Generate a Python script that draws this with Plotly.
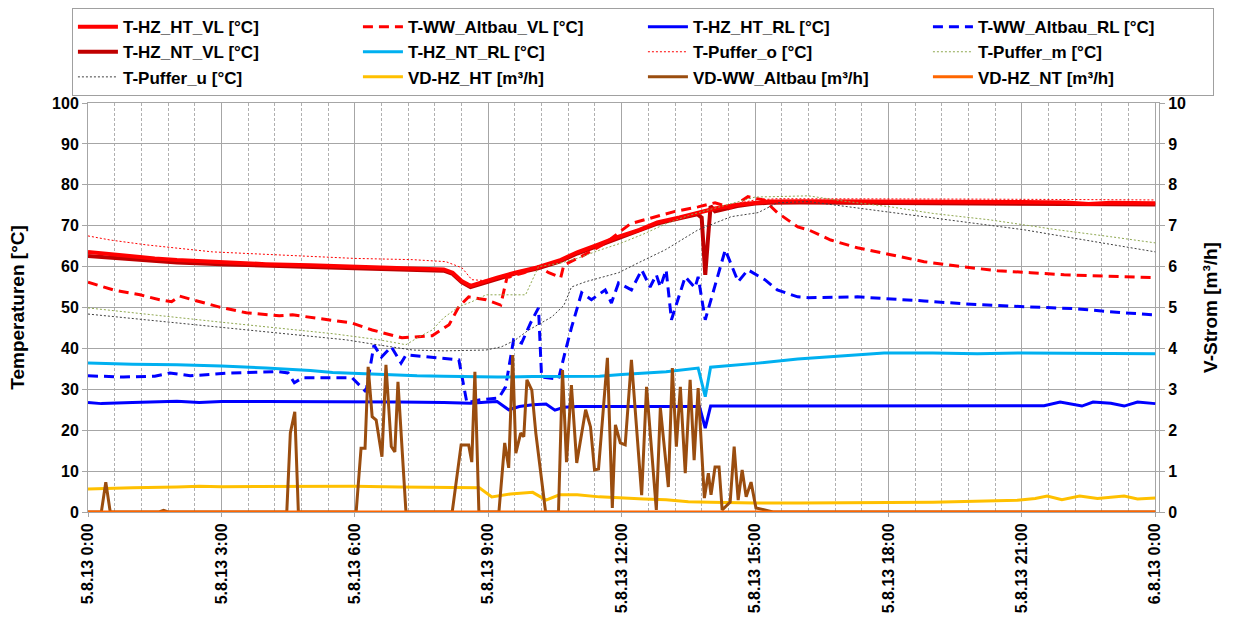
import pandas as pd
import plotly.graph_objects as go

BASE = pd.Timestamp("2013-08-05 00:00")

# ---- data (hours since 5.8.13 0:00, values) ----
t_ht_vl = [0, 0.5, 1, 1.5, 2, 3, 4, 5, 6, 7, 7.5, 8, 8.2, 8.4, 8.6, 8.8, 9.2, 9.6, 10.1, 10.6, 11.0, 11.5, 11.9, 12.4, 12.8, 13.3, 13.7, 14.1, 14.6, 15.0, 15.3, 16, 17, 18, 19, 20, 21, 22, 22.5, 23, 24]
v_ht_vl = [63.6, 63.0, 62.4, 62.0, 61.6, 61.0, 60.6, 60.3, 60.0, 59.8, 59.6, 59.3, 58.5, 56.5, 55.3, 56.0, 57.3, 58.5, 59.8, 61.5, 63.5, 65.5, 67.2, 69.0, 70.8, 72.0, 73.2, 74.2, 75.1, 75.6, 75.9, 76.0, 76.0, 75.9, 75.9, 75.8, 75.8, 75.7, 75.3, 75.6, 75.5]

t_ww_vl = [0, 0.57, 1.17, 1.61, 1.88, 2.06, 2.35, 2.96, 3.56, 4.3, 4.6, 5.04, 5.94, 6.39, 7.06, 7.74, 8.12, 8.34, 8.56, 8.95, 9.28, 9.42, 9.8, 10.13, 10.36, 10.63, 10.7, 11.1, 11.6, 12.2, 12.7, 13.2, 13.72, 14.1, 14.46, 14.84, 15.2, 15.5, 15.96, 16.2, 16.7, 17.3, 18.05, 18.8, 19.7, 20.45, 21.2, 21.95, 22.85, 24.0]
v_ww_vl = [56.2, 54.3, 53.1, 51.9, 51.4, 52.8, 51.9, 50.1, 48.7, 48.0, 48.2, 47.5, 46.2, 44.5, 42.6, 43.1, 45.8, 50.2, 52.6, 51.9, 50.6, 57.3, 58.5, 60.0, 58.5, 57.3, 60.4, 62.5, 65.5, 70.5, 72.0, 73.5, 74.6, 75.6, 74.4, 77.1, 76.3, 73.2, 69.7, 69.0, 66.5, 64.6, 62.9, 61.2, 59.9, 59.0, 58.5, 58.0, 57.7, 57.3]

t_ht_rl = [0, 0.3, 1, 2, 2.5, 3, 4, 5, 6, 7, 8, 8.6, 9.0, 9.2, 9.46, 9.7, 10.0, 10.3, 10.5, 10.7, 11, 12, 13, 13.75, 13.88, 14.0, 15, 16, 17, 18, 19, 20, 21, 21.5, 21.86, 22.35, 22.6, 23.0, 23.3, 23.6, 24]
v_ht_rl = [26.8, 26.5, 26.8, 27.1, 26.8, 27.0, 27.0, 27.0, 27.0, 26.9, 26.8, 26.6, 26.9, 27.0, 25.0, 25.8, 26.2, 26.4, 24.9, 25.6, 25.8, 25.8, 25.8, 25.8, 20.5, 25.9, 25.9, 25.9, 25.9, 25.9, 25.9, 25.9, 25.9, 26.0, 26.9, 25.9, 26.9, 26.6, 25.9, 26.9, 26.5]

t_ww_rl = [0, 0.8, 1.5, 1.84, 2.3, 3.2, 4.3, 4.5, 4.64, 4.82, 5.94, 6.25, 6.43, 6.6, 6.82, 7.04, 7.15, 8.34, 8.52, 8.79, 9.24, 9.39, 9.57, 9.75, 9.95, 10.13, 10.2, 10.58, 10.74, 10.87, 11.1, 11.32, 11.63, 11.77, 11.93, 12.22, 12.45, 12.64, 12.78, 12.87, 13.0, 13.12, 13.43, 13.65, 13.72, 13.88, 14.33, 14.62, 14.84, 15.22, 15.5, 15.96, 16.2, 17.3, 18.8, 19.7, 21.05, 22.2, 23.3, 24.0]
v_ww_rl = [33.3, 33.0, 33.2, 34.0, 33.3, 34.0, 34.3, 34.0, 31.6, 32.8, 32.8, 29.4, 40.8, 37.9, 40.4, 36.4, 38.4, 37.2, 26.7, 27.4, 27.9, 30.6, 42.1, 41.3, 46.2, 49.9, 33.0, 32.5, 39.6, 45.0, 53.6, 51.9, 54.3, 51.1, 56.0, 54.3, 59.2, 55.0, 58.0, 55.0, 59.2, 47.0, 57.5, 54.8, 57.5, 47.0, 64.1, 56.3, 59.2, 56.8, 54.3, 52.6, 52.4, 52.6, 51.6, 50.9, 50.2, 49.7, 48.7, 48.2]

t_nt_vl = [0, 1, 2, 3, 4, 5, 6, 7, 8, 8.2, 8.4, 8.6, 8.8, 9.2, 9.6, 10.1, 10.6, 11.0, 11.5, 11.9, 12.4, 12.8, 13.3, 13.7, 13.8, 13.88, 13.95, 14.0, 14.1, 14.6, 15.0, 15.3, 16, 18, 20, 22, 24]
v_nt_vl = [62.6, 61.7, 61.0, 60.6, 60.2, 59.9, 59.6, 59.3, 59.0, 58.2, 56.2, 55.0, 55.7, 57.0, 58.3, 59.5, 61.2, 63.2, 65.2, 67.0, 68.8, 70.5, 71.8, 72.8, 72.0, 58.0, 68.0, 74.8, 73.5, 74.8, 75.4, 75.6, 75.7, 75.6, 75.5, 75.3, 75.2]

t_nt_rl = [0, 1, 2, 3, 4, 5, 5.5, 6.5, 7.4, 8, 9.2, 10, 11.0, 11.5, 12.0, 13.0, 13.72, 13.88, 14.0, 14.5, 15.07, 15.96, 16.57, 17.3, 17.9, 19.0, 20, 21, 22, 23, 24]
v_nt_rl = [36.4, 36.1, 36.0, 35.7, 35.2, 34.6, 34.1, 33.6, 33.3, 33.2, 33.0, 33.1, 33.2, 33.2, 33.6, 34.3, 35.2, 28.2, 35.4, 35.8, 36.4, 37.4, 37.9, 38.4, 38.9, 38.9, 38.7, 38.9, 38.8, 38.8, 38.7]

t_puffer_o = [0, 0.5, 1.32, 2, 2.8, 4, 5.04, 6, 7.3, 8.05, 8.41, 8.63, 8.9, 9.5, 10.1, 10.6, 11.0, 11.5, 12.0, 12.5, 13.0, 13.7, 14.3, 15.0, 15.5, 16, 18, 20, 22, 24]
v_puffer_o = [67.5, 66.5, 65.3, 64.5, 63.6, 63.0, 62.4, 62.0, 61.7, 61.2, 59.7, 56.8, 56.6, 57.8, 59.6, 61.3, 63.4, 65.4, 67.4, 69.3, 71.2, 73.4, 74.8, 76.3, 76.6, 76.6, 76.5, 76.5, 76.4, 76.3]

t_puffer_m = [0, 1, 2.06, 3, 4.3, 5.5, 6.55, 7.15, 7.44, 7.74, 8.0, 8.34, 8.63, 8.95, 9.5, 9.84, 10.13, 10.6, 11.0, 11.5, 12.0, 12.5, 13.0, 13.5, 14.0, 14.5, 15.0, 16.2, 17, 18.05, 19, 20.3, 21.8, 23, 24]
v_puffer_m = [49.9, 48.8, 47.5, 46.4, 45.0, 43.6, 42.1, 40.9, 42.8, 44.5, 47.5, 50.2, 51.4, 53.1, 53.1, 53.1, 60.0, 60.8, 62.0, 64.0, 65.8, 68.0, 70.5, 72.5, 74.0, 75.5, 77.0, 77.3, 76.0, 74.6, 73.0, 71.4, 69.0, 67.3, 65.8]

t_puffer_u = [0, 1, 2, 2.8, 4, 5, 5.8, 6.5, 7.3, 8, 8.95, 9.3, 9.6, 9.91, 10.43, 10.7, 10.87, 11.19, 11.93, 12.37, 12.98, 13.72, 14.46, 15.07, 15.5, 16.2, 17.3, 18.8, 21.05, 23.3, 24]
v_puffer_u = [48.4, 47.3, 46.3, 45.3, 44.0, 43.0, 42.1, 40.9, 39.6, 39.4, 39.6, 40.4, 42.0, 44.5, 47.7, 50.5, 55.0, 56.3, 58.5, 60.9, 64.1, 69.0, 72.2, 73.2, 75.6, 75.9, 74.4, 72.2, 69.0, 64.8, 63.6]

t_vd_ht = [0, 0.5, 1, 2, 2.5, 3, 4, 5, 6, 7, 8, 8.8, 9.08, 9.5, 10.0, 10.3, 10.6, 11, 11.5, 12, 12.5, 13, 13.5, 14, 15, 16, 17, 18, 19, 20, 20.9, 21.3, 21.57, 21.9, 22.3, 22.7, 23.3, 23.6, 24]
v_vd_ht = [0.56, 0.58, 0.59, 0.61, 0.63, 0.62, 0.62, 0.62, 0.63, 0.61, 0.59, 0.59, 0.37, 0.44, 0.48, 0.29, 0.42, 0.42, 0.37, 0.34, 0.32, 0.30, 0.25, 0.24, 0.22, 0.22, 0.22, 0.23, 0.24, 0.26, 0.29, 0.33, 0.39, 0.30, 0.39, 0.33, 0.39, 0.32, 0.34]

t_vd_ww = [0, 0.3, 0.4, 0.5, 1.6, 1.7, 1.8, 4.0, 4.47, 4.55, 4.65, 4.73, 6.03, 6.14, 6.23, 6.3, 6.39, 6.48, 6.61, 6.7, 6.82, 6.9, 6.97, 7.15, 8.19, 8.39, 8.56, 8.63, 8.7, 8.79, 9.24, 9.37, 9.46, 9.55, 9.62, 9.73, 9.8, 9.87, 9.98, 10.07, 10.29, 10.58, 10.67, 10.76, 10.87, 10.99, 11.19, 11.3, 11.39, 11.48, 11.68, 11.79, 11.86, 11.97, 12.08, 12.22, 12.45, 12.56, 12.67, 12.78, 12.87, 13.05, 13.14, 13.23, 13.32, 13.43, 13.54, 13.63, 13.72, 13.86, 13.95, 14.01, 14.1, 14.19, 14.26, 14.44, 14.53, 14.62, 14.71, 14.8, 14.91, 15.02, 15.22, 15.4, 24]
v_vd_ww = [0, 0, 0.73, 0, 0, 0.04, 0, 0, 0, 1.93, 2.45, 0, 0, 1.56, 1.56, 3.55, 2.33, 2.25, 1.35, 3.6, 1.6, 1.47, 3.18, 0, 0, 1.64, 1.64, 1.22, 3.43, 0, 0, 1.69, 1.08, 3.84, 1.44, 1.93, 1.84, 3.23, 2.98, 1.93, 0, 0, 3.47, 1.22, 3.1, 1.2, 2.5, 2.08, 1.03, 1.05, 3.77, 0.1, 2.13, 1.69, 1.64, 3.72, 0.41, 3.06, 1.6, 0.05, 2.55, 0.61, 3.52, 1.6, 3.06, 0.95, 3.23, 1.27, 3.03, 0.34, 0.95, 0.42, 1.1, 1.1, 0.05, 0.24, 1.6, 0.29, 1.03, 0.37, 0.73, 0.1, 0.05, 0, 0]

t_vd_nt = [0, 24]
v_vd_nt = [0, 0]

x_tick_hours = [0, 3, 6, 9, 12, 15, 18, 21, 24]


def ts(hours):
    return [BASE + pd.Timedelta(hours=h) for h in hours]


# (name, t, v, color, width, dash, axis, legend rank); list order = drawing order
series = [
    ("T-HZ_NT_VL [°C]", t_nt_vl, v_nt_vl, "#C00000", 4, "solid", "y", 5),
    ("T-HZ_HT_VL [°C]", t_ht_vl, v_ht_vl, "#FF0000", 4, "solid", "y", 1),
    ("T-WW_Altbau_VL [°C]", t_ww_vl, v_ww_vl, "#FF0000", 3, "10px,6px", "y", 2),
    ("T-HZ_HT_RL [°C]", t_ht_rl, v_ht_rl, "#0000FF", 3, "solid", "y", 3),
    ("T-WW_Altbau_RL [°C]", t_ww_rl, v_ww_rl, "#0000FF", 3, "10px,6px", "y", 4),
    ("T-HZ_NT_RL [°C]", t_nt_rl, v_nt_rl, "#00B0F0", 3, "solid", "y", 6),
    ("T-Puffer_o [°C]", t_puffer_o, v_puffer_o, "#FF0000", 1, "2px,2px", "y", 7),
    ("T-Puffer_m [°C]", t_puffer_m, v_puffer_m, "#8FA850", 1, "2px,2px", "y", 8),
    ("T-Puffer_u [°C]", t_puffer_u, v_puffer_u, "#404040", 1, "2px,2px", "y", 9),
    ("VD-HZ_HT [m³/h]", t_vd_ht, v_vd_ht, "#FFC000", 3, "solid", "y2", 10),
    ("VD-WW_Altbau [m³/h]", t_vd_ww, v_vd_ww, "#9A4D0F", 3, "solid", "y2", 11),
    ("VD-HZ_NT [m³/h]", t_vd_nt, v_vd_nt, "#FF6600", 3, "solid", "y2", 12),
]

fig = go.Figure()
for name, t, v, color, width, dash, yaxis, rank in series:
    fig.add_trace(go.Scatter(
        x=ts(t), y=v, name=name, mode="lines", yaxis=yaxis, legendrank=rank * 10,
        line=dict(color=color, width=width, dash=dash),
    ))

FAM = "Liberation Sans, Arial, sans-serif"
bold = dict(family=FAM, size=16, color="black", weight="bold")
legend_font = dict(family=FAM, size=17, color="black", weight="bold")
title_font = dict(family=FAM, size=19, color="black", weight="bold")
grid = "#A6A6A6"

tickvals = ts(x_tick_hours)
ticktext = [f"{d.day}.{d.month}.{d.strftime('%y')} {d.hour}:{d.minute:02d}" for d in tickvals]

fig.update_layout(
    width=1236, height=623,
    margin=dict(l=88, r=77, t=103, b=111, autoexpand=False),
    paper_bgcolor="white", plot_bgcolor="white",
    font=bold,
    showlegend=True,
    legend=dict(
        orientation="h", x=-0.015, y=1.232, xanchor="left", yanchor="top",
        bordercolor="#A0A0A0", borderwidth=1, bgcolor="white",
        entrywidth=230, entrywidthmode="pixels",
        font=legend_font, tracegroupgap=0, itemwidth=40,
    ),
    xaxis=dict(
        type="date",
        range=[BASE, BASE + pd.Timedelta(minutes=24 * 60 + 5)],
        tickmode="array", tickvals=tickvals, ticktext=ticktext,
        tickangle=-90, tickfont=bold,
        showgrid=True, gridcolor=grid, gridwidth=1,
        minor=dict(dtick=36 * 60 * 1000, tick0=BASE, showgrid=True,
                   gridcolor="#B0B0B0", griddash="3px,2px", gridwidth=1),
        ticks="outside", ticklen=4, tickcolor=grid,
        showline=True, linecolor=grid, mirror=True,
        zeroline=False,
    ),
    yaxis=dict(
        range=[0, 100], dtick=10, tickfont=bold,
        title=dict(text="Temperaturen [°C]", font=title_font, standoff=22),
        showgrid=True, gridcolor=grid, gridwidth=1,
        ticks="outside", ticklen=5, tickcolor=grid,
        showline=True, linecolor=grid, mirror=True, zeroline=False,
    ),
    yaxis2=dict(
        range=[0, 10], dtick=1, overlaying="y", side="right", tickfont=bold,
        title=dict(text="V-Strom [m³/h]", font=title_font, standoff=18),
        showgrid=False, ticks="outside", ticklen=5, tickcolor=grid,
        showline=True, linecolor=grid, zeroline=False,
    ),
)

fig.write_html("out.html", config={"displayModeBar": False},
               post_script="document.body.style.margin='0';")
